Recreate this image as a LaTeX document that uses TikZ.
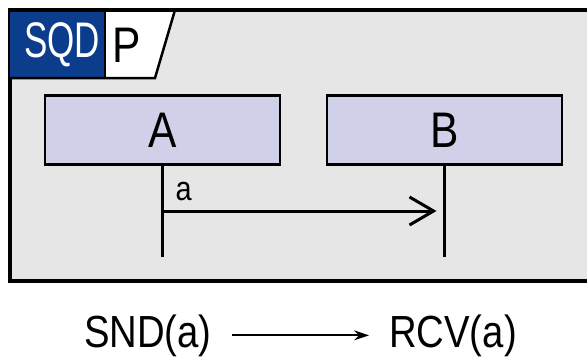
\documentclass[tikz,border=0pt]{standalone}
\usepackage{fontspec}
\setmainfont{Liberation Sans}[FakeStretch=0.85]
\newfontfamily\tabfont{Liberation Sans}[FakeStretch=0.7]
\usepackage{tikz}
\usetikzlibrary{arrows.meta,positioning,calc}
\definecolor{sqd-blue}{HTML}{0B3D8C}
\definecolor{framefill}{HTML}{E6E6E6}
\definecolor{lifefill}{HTML}{D0D0E8}

\begin{document}
\begin{tikzpicture}[x=1pt, y=1pt,
  lifebox/.style={draw, line width=2.5pt, fill=lifefill, minimum width=235pt, minimum height=69pt, inner sep=0pt, outer sep=0pt, font=\fontsize{50}{50}\selectfont},
  lline/.style={line width=3pt},
  msg/.style={-{Straight Barb[length=24pt, width=28pt]}, line width=3pt, shorten >=8pt},
  evt/.style={-{Stealth[length=15pt, width=10pt]}, line width=2pt},
  evtext/.style={anchor=base, inner xsep=20pt, font=\fontsize{45}{45}\selectfont}
]
  \useasboundingbox (0,0) rectangle (587,360);
  \fill[white] (0,0) rectangle (587,360);
  % frame and header tab
  \draw[line width=3.5pt, fill=framefill] (10,350) rectangle (620,79);
  \fill[sqd-blue] (10,350) rectangle (105,282);
  \fill[white] (105,350) -- (175,350) -- (155,282) -- (105,282) -- cycle;
  \draw[line width=2.5pt] (10,282) -- (155,282) -- (175,350);
  \draw[line width=2.5pt] (105,350) -- (105,282);
  \draw[line width=3.5pt] (10,350) -- (620,350);
  \node[text=white, font=\tabfont\fontsize{50}{50}\selectfont] (sqd) at (62,315) {SQD};
  \node[font=\fontsize{50}{50}\selectfont] (pname) at (127,315) {P};

  \node[lifebox] (A) at (162.5,230) {A};
  \node[lifebox, right=47pt of A] (B) {B};
  \coordinate[below=92.5pt of A] (Aend);
  \coordinate[below=92.5pt of B] (Bend);
  \draw[lline] (A) -- (Aend);
  \draw[lline] (B) -- (Bend);

  \coordinate[below=46.5pt of A] (snd);
  \coordinate[below=46.5pt of B] (rcv);
  \draw[msg] (snd) -- (rcv);
  \node[anchor=base west, inner sep=0pt, font=\fontsize{34}{34}\selectfont] (alabel) at ($(snd)+(13,11)$) {a};

  \node[evtext] (sndtxt) at (148,13) {SND(a)};
  \node[evtext] (rcvtxt) at (453,13) {RCV(a)};
  \draw[evt] (sndtxt) -- (rcvtxt);
\end{tikzpicture}
\end{document}
